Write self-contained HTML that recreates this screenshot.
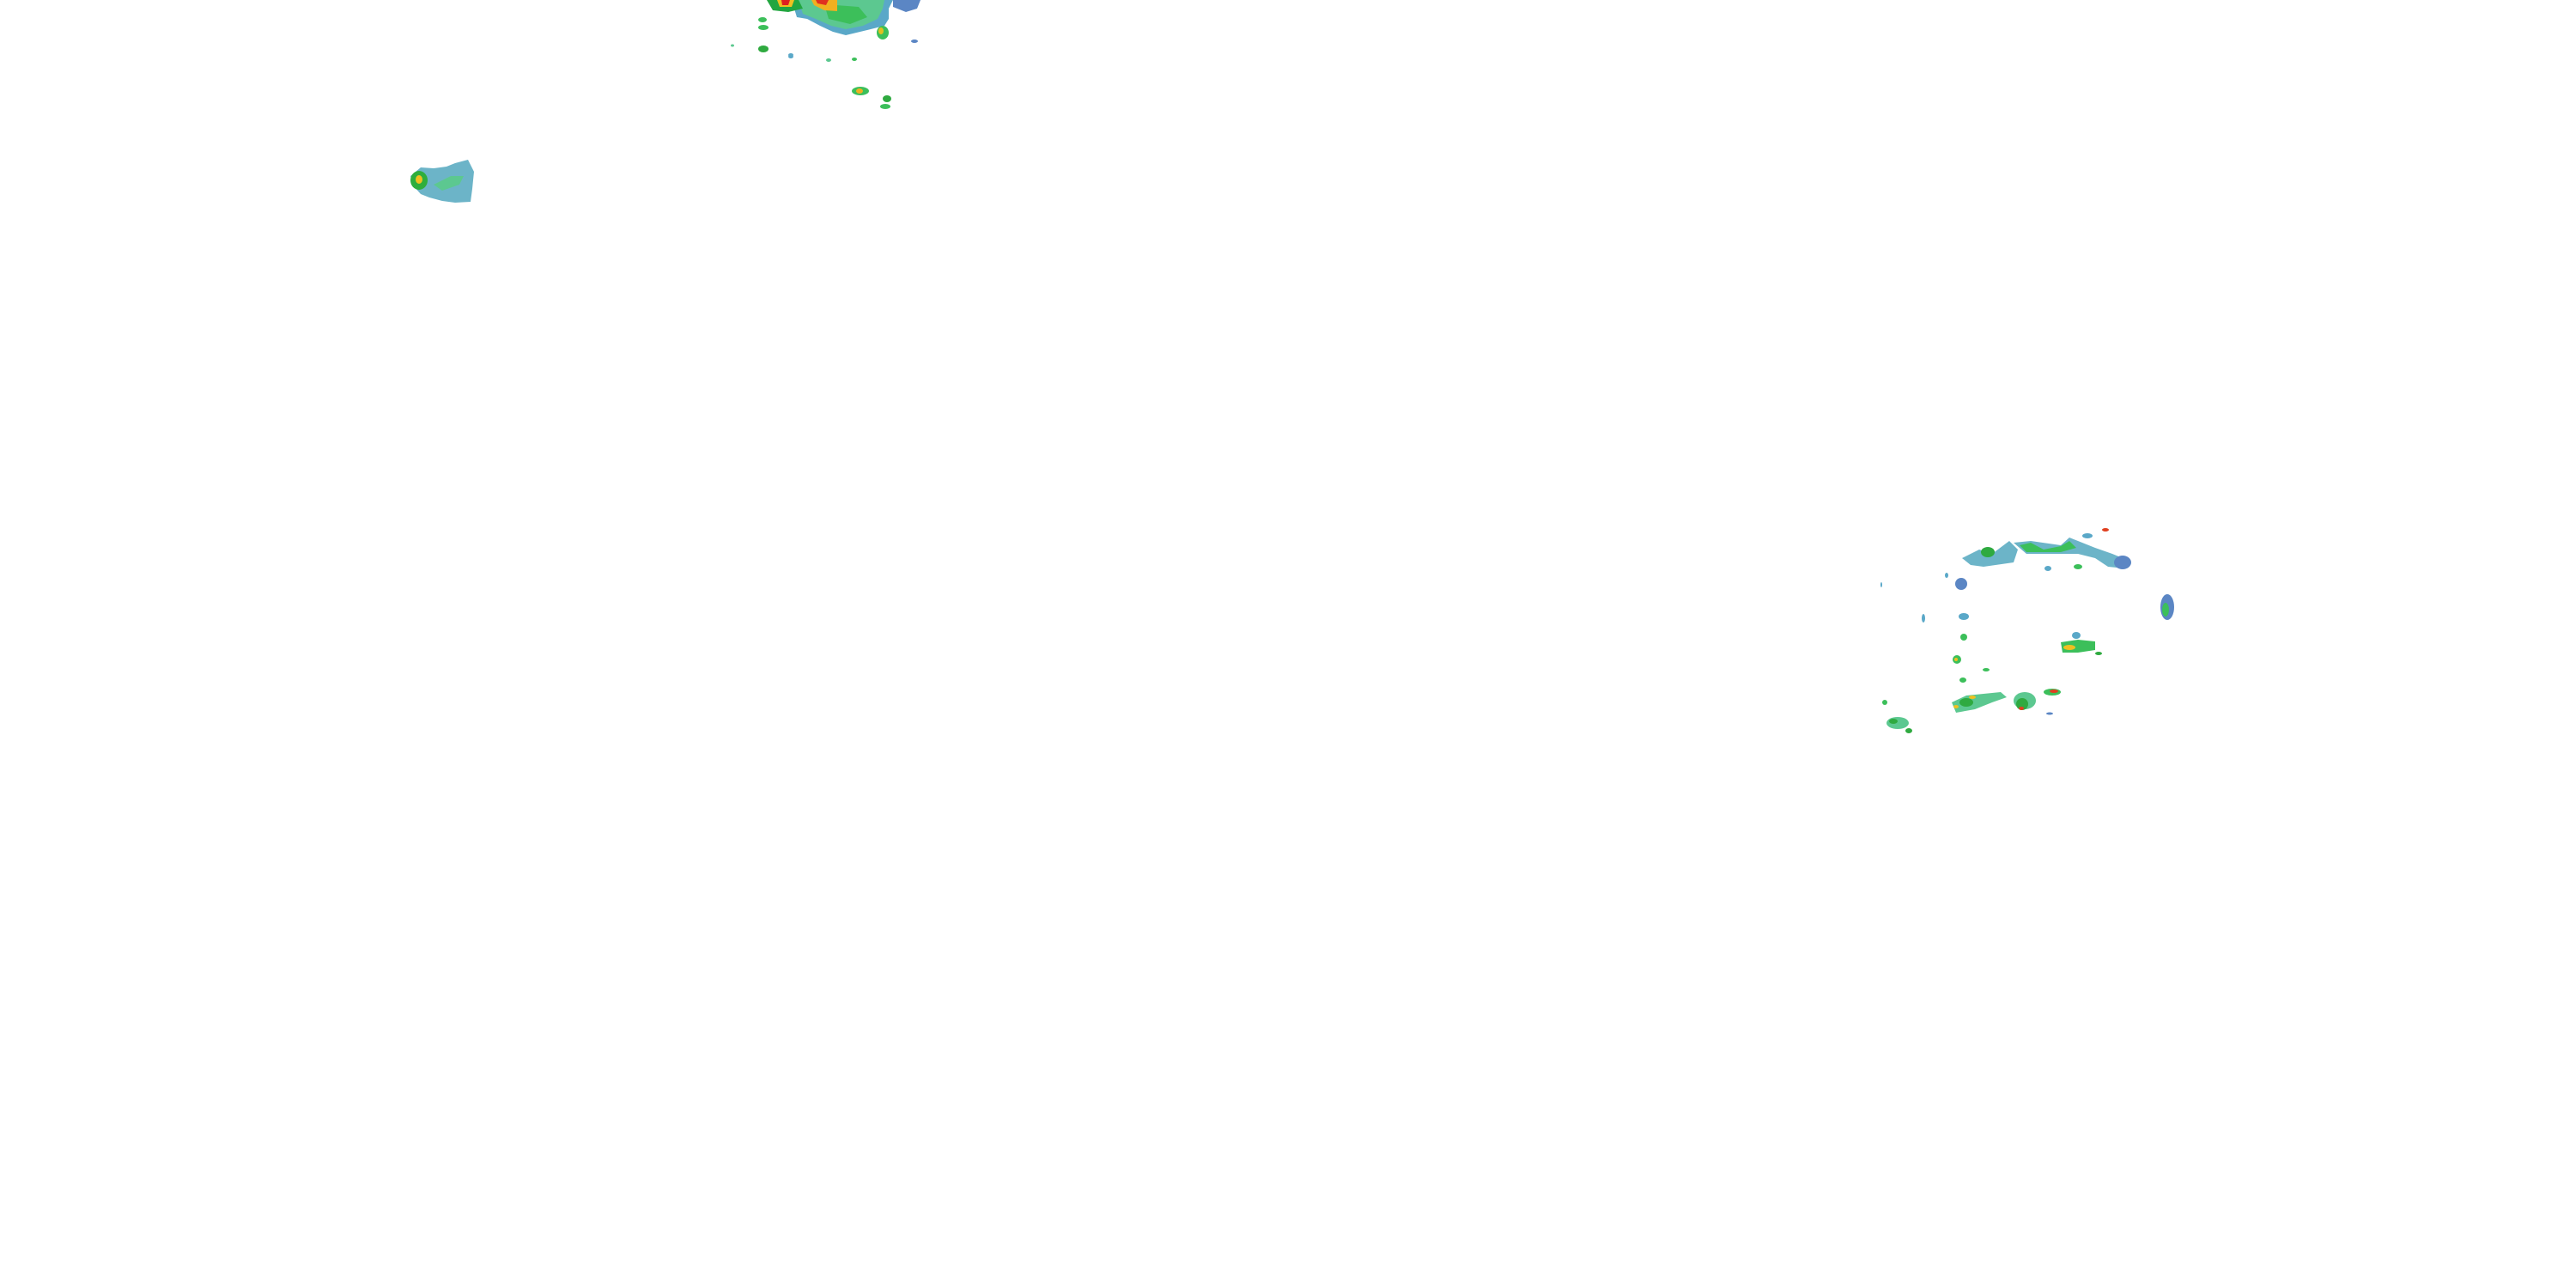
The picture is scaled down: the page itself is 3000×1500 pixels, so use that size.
<!DOCTYPE html>
<html><head><meta charset="utf-8"><style>html,body{margin:0;padding:0;background:#fff;}svg{display:block}</style></head>
<body>
<svg width="3000" height="1500" viewBox="0 0 3000 1500" xmlns="http://www.w3.org/2000/svg">
<rect width="3000" height="1500" fill="#fff"/>
<!-- top blob -->
<g>
<path d="M925 0 L1040 0 L1035 10 L1035 22 L1030 30 L1010 35 L985 41 L970 37 L955 30 L940 22 L928 20 L925 10 Z" fill="#5aa8c8"/>
<path d="M930 0 L1030 0 L1028 10 L1022 22 L1005 30 L985 34 L968 30 L950 22 L935 16 Z" fill="#5cc890"/>
<path d="M960 5 L1000 8 L1010 20 L990 28 L965 22 Z" fill="#3cbf5a"/>
<path d="M893 0 L930 0 L935 10 L918 14 L900 12 Z" fill="#22a640"/>
<path d="M905 0 L925 0 L922 8 L908 8 Z" fill="#f0c020"/>
<path d="M910 0 L920 0 L918 6 L911 6 Z" fill="#e02020"/>
<path d="M945 0 L975 0 L975 13 L960 12 L948 6 Z" fill="#f0b020"/>
<path d="M950 0 L965 0 L962 6 L952 4 Z" fill="#e03020"/>
<path d="M1040 0 L1072 0 L1068 10 L1055 14 L1040 8 Z" fill="#5b86c4"/>
<ellipse cx="889" cy="32" rx="6" ry="3" fill="#3cbf5a"/>
<ellipse cx="888" cy="23" rx="5" ry="3" fill="#3cbf5a"/>
<ellipse cx="1028" cy="38" rx="7" ry="8" fill="#3cbf5a"/>
<ellipse cx="1026" cy="36" rx="3" ry="4" fill="#e0c020"/>
<ellipse cx="889" cy="57" rx="6" ry="4" fill="#2faa40"/>
<ellipse cx="1002" cy="106" rx="10" ry="5" fill="#3cbf5a"/>
<ellipse cx="1001" cy="106" rx="4" ry="3" fill="#f0b020"/>
<ellipse cx="1033" cy="115" rx="5" ry="4" fill="#2faa40"/>
<ellipse cx="1031" cy="124" rx="6" ry="3" fill="#3cbf5a"/>
<ellipse cx="921" cy="64" rx="3" ry="2" fill="#5aa8c8"/>
<ellipse cx="921" cy="66" rx="3" ry="2" fill="#5aa8c8"/>
<ellipse cx="965" cy="70" rx="3" ry="2" fill="#5cc890"/>
<ellipse cx="995" cy="69" rx="3" ry="2" fill="#3cbf5a"/>
<ellipse cx="853" cy="53" rx="2" ry="1.5" fill="#5cc890"/>
<ellipse cx="1065" cy="48" rx="4" ry="2" fill="#5b86c4"/>
</g>
<!-- left blob -->
<path d="M478 205 L490 195 L505 196 L520 194 L530 190 L545 186 L552 200 L550 220 L548 235 L530 236 L515 234 L500 230 L490 226 L480 215 Z" fill="#6cb4c8"/>
<path d="M505 215 L525 205 L540 205 L535 215 L515 222 Z" fill="#5cc890"/>
<ellipse cx="488" cy="210" rx="10" ry="11" fill="#2fae3c"/>
<ellipse cx="488" cy="209" rx="4" ry="5" fill="#f0c020"/>
<!-- right cluster -->
<g>
<path d="M2285 650 L2305 640 L2320 645 L2340 630 L2350 640 L2345 655 L2310 660 L2295 658 Z" fill="#6cb4c8"/>
<ellipse cx="2315" cy="643" rx="8" ry="6" fill="#2faa40"/>
<path d="M2345 632 L2365 630 L2400 635 L2410 626 L2420 630 L2440 638 L2460 645 L2477 652 L2475 662 L2455 660 L2440 650 L2420 645 L2400 645 L2380 645 L2360 645 Z" fill="#6cb4c8"/>
<path d="M2352 635 L2365 632 L2380 640 L2400 636 L2410 630 L2418 638 L2400 643 L2360 643 Z" fill="#3cbf5a"/>
<ellipse cx="2472" cy="655" rx="10" ry="8" fill="#5b86c4"/>
<ellipse cx="2431" cy="624" rx="6" ry="3" fill="#5aa8c8"/>
<ellipse cx="2452" cy="617" rx="4" ry="2" fill="#e04020"/>
<ellipse cx="2420" cy="660" rx="5" ry="3" fill="#3cbf5a"/>
<ellipse cx="2385" cy="662" rx="4" ry="3" fill="#5aa8c8"/>
<ellipse cx="2284" cy="680" rx="7" ry="7" fill="#5b86c4"/>
<ellipse cx="2267" cy="670" rx="2" ry="3" fill="#5aa8c8"/>
<ellipse cx="2524" cy="707" rx="8" ry="15" fill="#5b86c4"/>
<ellipse cx="2522" cy="710" rx="4" ry="8" fill="#3cbf5a"/>
<ellipse cx="2287" cy="718" rx="6" ry="4" fill="#5aa8c8"/>
<ellipse cx="2287" cy="742" rx="4" ry="4" fill="#3cbf5a"/>
<ellipse cx="2418" cy="740" rx="5" ry="4" fill="#5aa8c8"/>
<path d="M2400 748 L2420 745 L2440 747 L2440 757 L2420 760 L2402 760 Z" fill="#3cbf5a"/>
<ellipse cx="2410" cy="754" rx="7" ry="3" fill="#f0c020"/>
<ellipse cx="2444" cy="761" rx="4" ry="2" fill="#2faa40"/>
<ellipse cx="2279" cy="768" rx="5" ry="5" fill="#3cbf5a"/>
<ellipse cx="2278" cy="768" rx="2" ry="2" fill="#f0c020"/>
<ellipse cx="2313" cy="780" rx="4" ry="2" fill="#3cbf5a"/>
<ellipse cx="2286" cy="792" rx="4" ry="3" fill="#3cbf5a"/>
<ellipse cx="2390" cy="806" rx="10" ry="4" fill="#3cbf5a"/>
<ellipse cx="2392" cy="805" rx="5" ry="2" fill="#e04020"/>
<path d="M2273 818 L2290 810 L2310 808 L2330 806 L2337 812 L2320 818 L2300 826 L2278 830 Z" fill="#5cc890"/>
<ellipse cx="2290" cy="818" rx="8" ry="5" fill="#2faa40"/>
<ellipse cx="2297" cy="812" rx="4" ry="2" fill="#f0c020"/>
<ellipse cx="2278" cy="823" rx="3" ry="2" fill="#f0c020"/>
<ellipse cx="2358" cy="816" rx="13" ry="10" fill="#5cc890"/>
<ellipse cx="2355" cy="820" rx="7" ry="7" fill="#2faa40"/>
<ellipse cx="2354" cy="825" rx="3" ry="2" fill="#e04020"/>
<ellipse cx="2195" cy="818" rx="3" ry="3" fill="#3cbf5a"/>
<ellipse cx="2210" cy="842" rx="13" ry="7" fill="#5cc890"/>
<ellipse cx="2205" cy="840" rx="5" ry="3" fill="#2faa40"/>
<ellipse cx="2223" cy="851" rx="4" ry="3" fill="#2faa40"/>
<ellipse cx="2387" cy="831" rx="4" ry="1.5" fill="#5b86c4"/>
<ellipse cx="2191" cy="681" rx="1" ry="3" fill="#5aa8c8"/>
<ellipse cx="2240" cy="720" rx="2" ry="5" fill="#5aa8c8"/>
</g>
</svg>
</body></html>
